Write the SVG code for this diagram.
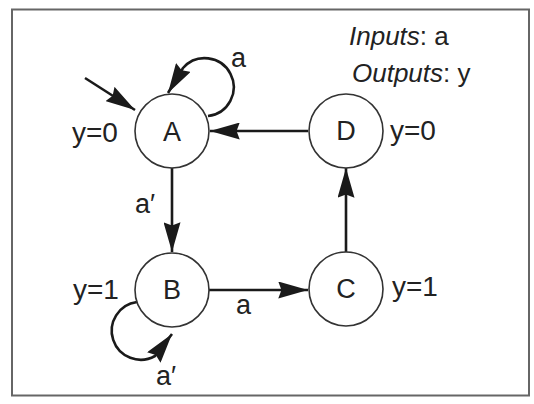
<svg xmlns="http://www.w3.org/2000/svg" width="534" height="404" viewBox="0 0 534 404">
<defs>
<marker id="ah" markerUnits="userSpaceOnUse" markerWidth="30" markerHeight="17" viewBox="0 0 28 16" refX="28" refY="8" orient="auto">
<path d="M0,0 L28,8 L0,16 L3,8 z" fill="#1a1a1a"/>
</marker>
</defs>
<style>
.node circle{fill:#fff;stroke:#333;stroke-width:1.6}
text{font-family:"Liberation Sans",Arial,sans-serif;fill:#222}
.lbl{font-size:27px;text-anchor:middle}
.out{font-size:28px}
.edge{font-size:27px}
.io{font-size:26px}
.conn path,.conn line{fill:none;stroke:#1a1a1a;stroke-width:2.6;marker-end:url(#ah)}
</style>
<rect x="12" y="9.5" width="517" height="386" fill="#fff" stroke="#666" stroke-width="2"/>
<g id="legend">
<text class="io" x="349" y="45"><tspan font-style="italic">Inputs</tspan>: a</text>
<text class="io" x="352" y="82"><tspan font-style="italic">Outputs</tspan>: y</text>
</g>
<g class="conn" id="connectors">
<line x1="85" y1="78" x2="135" y2="110" stroke-width="3.2"/>
<path d="M208,116 A29,29 0 1 0 183,68 L168,93"/>
<line x1="308" y1="131" x2="210" y2="131"/>
<line x1="172" y1="168" x2="172" y2="252"/>
<line x1="209" y1="290" x2="308" y2="290"/>
<line x1="346" y1="252" x2="346" y2="168"/>
<path d="M137,302 A29,29 0 1 0 155,356 L172,334"/>
<text class="edge" x="231" y="67">a</text>
<text class="edge" x="135" y="213">a′</text>
<text class="edge" x="236" y="314">a</text>
<text class="edge" x="156" y="385">a′</text>
</g>
<g class="node" id="A">
<circle cx="172" cy="131" r="37"/>
<text class="lbl" x="172" y="141">A</text>
<text class="out" x="72" y="142">y=0</text>
</g>
<g class="node" id="D">
<circle cx="346" cy="131" r="37"/>
<text class="lbl" x="346" y="140">D</text>
<text class="out" x="390" y="140">y=0</text>
</g>
<g class="node" id="B">
<circle cx="172" cy="290" r="37"/>
<text class="lbl" x="172" y="299">B</text>
<text class="out" x="73" y="299">y=1</text>
</g>
<g class="node" id="C">
<circle cx="346" cy="289" r="37"/>
<text class="lbl" x="346" y="298">C</text>
<text class="out" x="392" y="296">y=1</text>
</g>
</svg>
